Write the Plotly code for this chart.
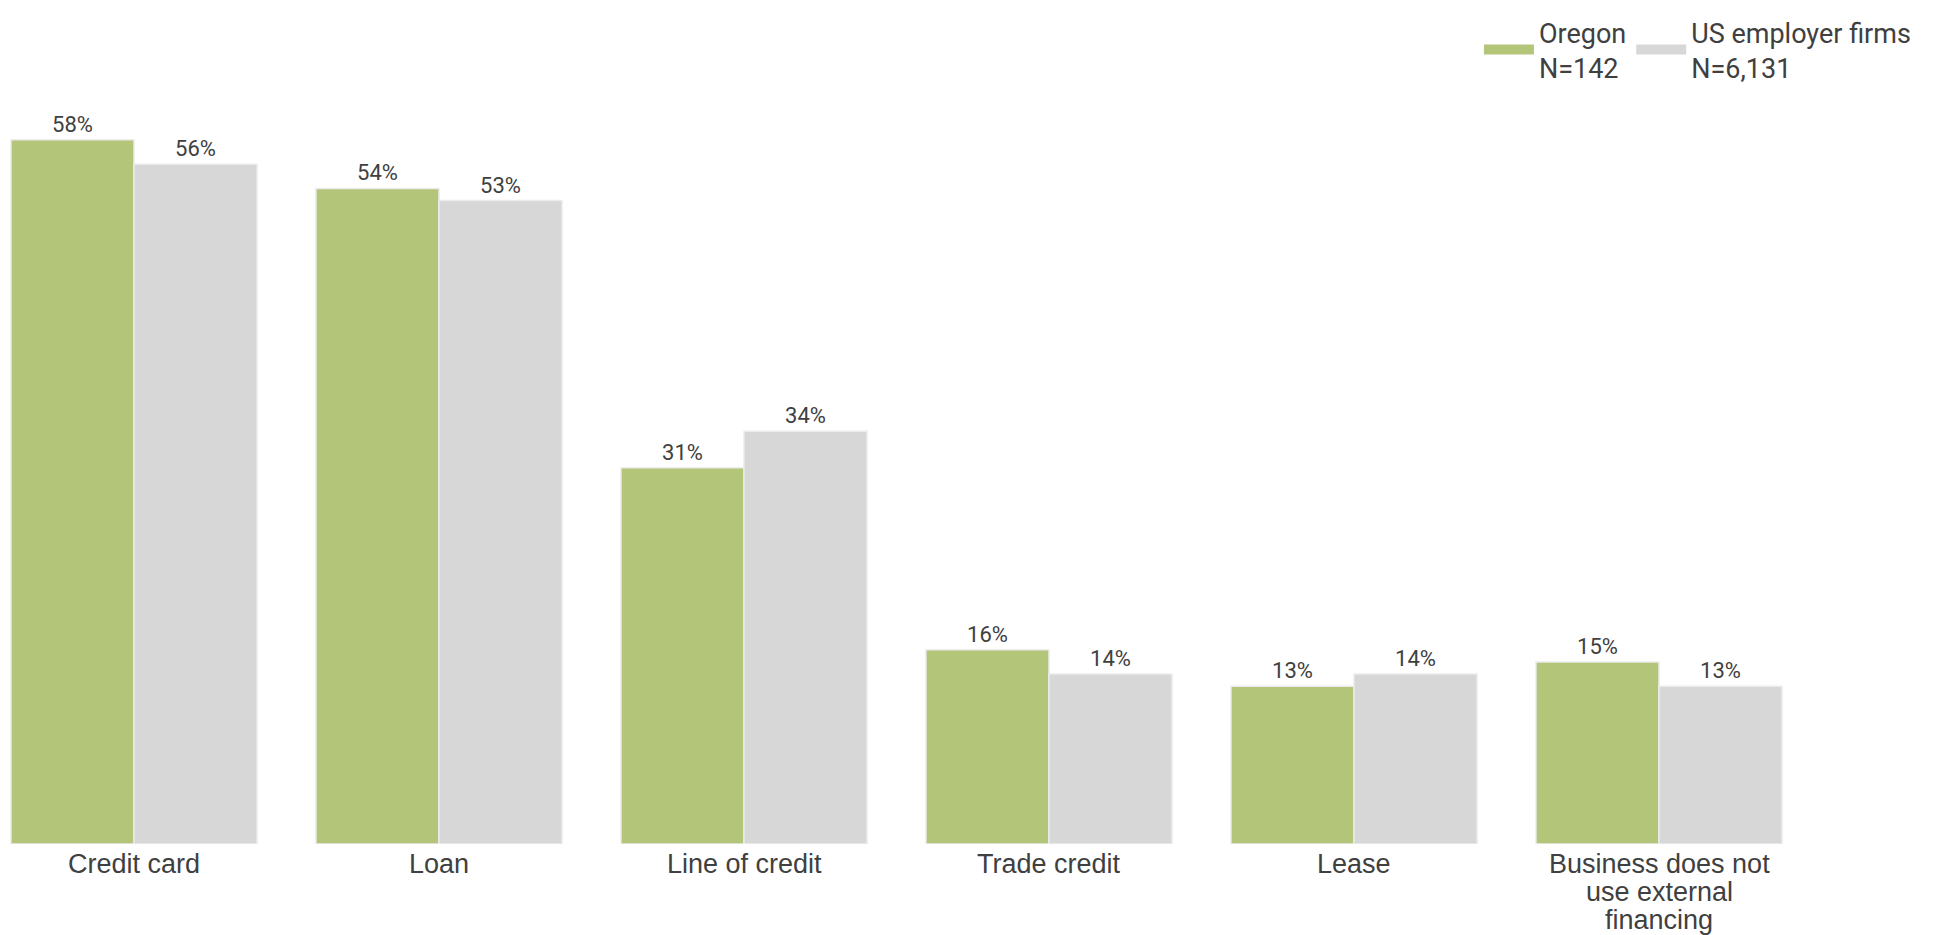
import plotly.graph_objects as go

categories = ["Credit card", "Loan", "Line of credit", "Trade credit", "Lease",
              "Business does not<br>use external<br>financing"]
oregon = [58, 54, 31, 16, 13, 15]
us_firms = [56, 53, 34, 14, 14, 13]
series_names = ["Oregon<br>N=142", "US employer firms<br>N=6,131"]
colors = ["#b3c578", "#d7d7d7"]

TEXT = "#404040"
xs = list(range(len(categories)))

fig = go.Figure()
for name, vals, col in zip(series_names, [oregon, us_firms], colors):
    fig.add_trace(go.Bar(
        x=xs, y=vals, name=name, showlegend=False,
        marker=dict(color=col, line=dict(color="#ececec", width=1.5)),
        text=[f"{v}%" for v in vals], textposition="outside",
        textfont=dict(family="Roboto", size=22, color=TEXT),
        cliponaxis=False,
    ))
    # legend swatch (wide rectangle like the reference)
    fig.add_trace(go.Scatter(
        x=[None], y=[None], mode="lines", name=name,
        line=dict(color=col, width=12), showlegend=True,
    ))

# category labels, one annotation per line to keep the reference's tight line spacing
for i, cat in enumerate(categories):
    for k, line in enumerate(cat.split("<br>")):
        fig.add_annotation(
            x=i, xref="x", y=0, yref="y", yanchor="top",
            text=line, showarrow=False, yshift=-3 - 28 * k,
            font=dict(family="Liberation Sans", size=27, color=TEXT),
        )

fig.update_layout(
    width=1937, height=935,
    barmode="group", bargap=0.193, bargroupgap=0,
    plot_bgcolor="white", paper_bgcolor="white",
    margin=dict(l=0, r=0, t=0, b=99),
    showlegend=True,
    legend=dict(orientation="h", x=0.985, xanchor="right", y=1.0, yanchor="top",
                yref="paper", bgcolor="rgba(0,0,0,0)",
                font=dict(family="Roboto", size=27, color=TEXT),
                traceorder="normal", itemwidth=50, tracegroupgap=0),
    xaxis=dict(range=[-0.4131, 5.9377], showgrid=False, zeroline=False, showline=False,
               ticks="", showticklabels=False),
    yaxis=dict(range=[0, 68.86], visible=False, showgrid=False, zeroline=False),
)
fig.write_html("out.html")
